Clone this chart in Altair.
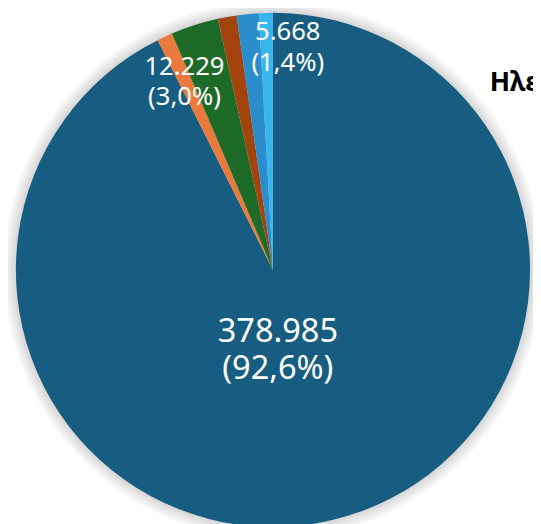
import altair as alt
import pandas as pd

# ---- data ----
categories = ["Κατηγορία 1", "Κατηγορία 2", "Κατηγορία 3", "Κατηγορία 4", "Κατηγορία 5", "Κατηγορία 6"]
values = [378985, 4000, 12229, 4800, 5668, 3600]
colors = ["#175d81", "#ea7a3b", "#1e6b29", "#a3440f", "#2c8dcc", "#38b5ec"]
title_text = "Ηλεκτρική ενέργεια"

total = sum(values)


def fmt_num(v):
    return f"{v:,}".replace(",", ".")


def fmt_pct(v):
    return f"{v / total * 100:.1f}".replace(".", ",") + "%"


df = pd.DataFrame({
    "cat": categories,
    "value": values,
    "idx": list(range(len(values))),
    "label": [fmt_num(v) + "\n(" + fmt_pct(v) + ")" for v in values],
})

# ---- layout ----
W, H = 533, 516
CX, CY = 269, 262
R = 261
FONT = "Noto Sans"

theta = alt.Theta("value:Q", stack=True)
order = alt.Order("idx:Q", sort="ascending")
pos = dict(x=alt.value(CX), y=alt.value(CY))

one = alt.Data(values=[{"k": 1}])

# soft shadow rings (pure styling)
shadow_layers = [
    alt.Chart(one).mark_arc(radius=R + 1.6 * k, color="#000000", opacity=0.02).encode(
        theta=alt.value(0), theta2=alt.value(6.2832), **pos
    )
    for k in range(1, 9)
]

base = alt.Chart(df)

pie = base.mark_arc(radius=R).encode(
    theta=theta,
    order=order,
    color=alt.Color("cat:N", scale=alt.Scale(domain=categories, range=colors), legend=None),
    **pos,
)


def label_layer(cat, radius, dx, size, lh):
    return base.transform_calculate(
        t=f"datum.cat == '{cat}' ? datum.label : ''"
    ).mark_text(
        radius=radius, dx=dx, fontSize=size, lineHeight=lh, lineBreak="\n",
        color="white", font=FONT, align="center", baseline="middle",
    ).encode(theta=theta, order=order, text="t:N", **pos)


lab_big = label_layer(categories[0], 65, -10, 33, 37)
lab_green = label_layer(categories[2], 216, -24, 26, 30)
lab_blue = label_layer(categories[4], 243, 39, 26, 32)

title = alt.Chart(alt.Data(values=[{"t": title_text}])).mark_text(
    align="left", baseline="alphabetic", fontSize=27, fontWeight="bold", font=FONT, color="black"
).encode(x=alt.value(489), y=alt.value(80), text="t:N")

chart = alt.layer(*shadow_layers, pie, lab_big, lab_green, lab_blue, title).properties(
    width=W, height=H, autosize=alt.AutoSizeParams(type="none"), padding=0
).configure_view(stroke=None)

chart.save("out.html", embed_options={"renderer": "svg", "actions": False})
